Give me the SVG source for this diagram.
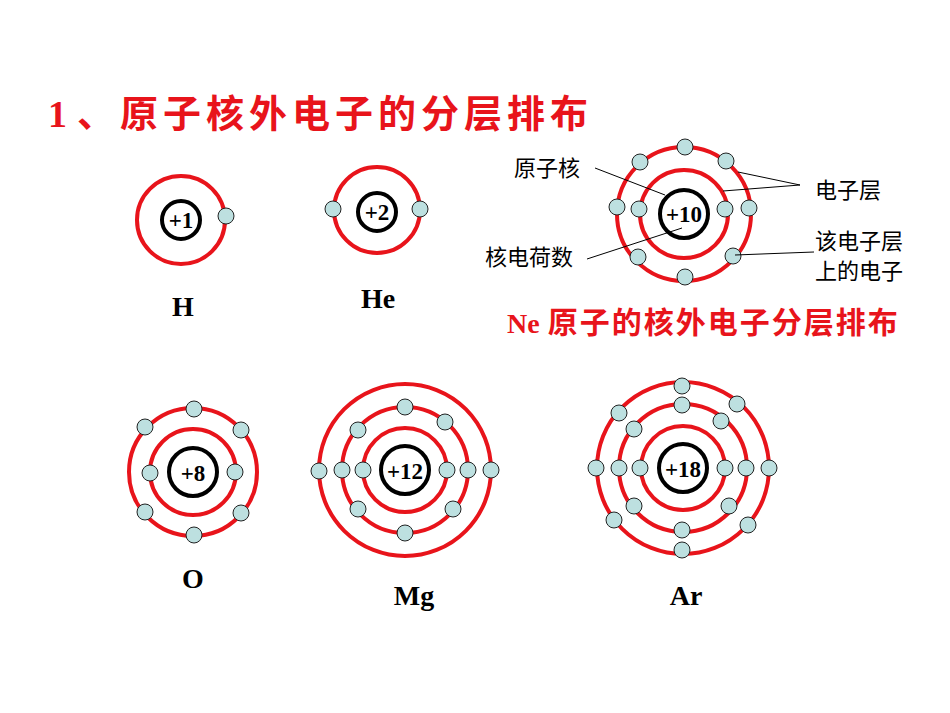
<svg xmlns="http://www.w3.org/2000/svg" width="950" height="713" viewBox="0 0 950 713">
<style>
.orb{fill:none;stroke:#e8141b;stroke-width:4}
.nuc{fill:#fff;stroke:#000;stroke-width:4}
.e{fill:#bde0e0;stroke:#222;stroke-width:1}
.n{font-family:"Liberation Serif",serif;font-weight:bold;font-size:23px;text-anchor:middle}
.sym{font-family:"Liberation Serif",serif;font-weight:bold;font-size:28px;text-anchor:middle}
.lb{font-family:"Noto Sans CJK SC",sans-serif;font-size:22px}
.ln{stroke:#000;stroke-width:1;fill:none}
</style>
<rect width="950" height="713" fill="#fff"/>
<text x="48" y="127" font-family="'Liberation Serif','Noto Sans CJK SC',serif" font-weight="bold" font-size="38" fill="#e8141b">1<tspan dx="10" font-family="'Noto Sans CJK SC',sans-serif" letter-spacing="5">、原子核外电子的分层排布</tspan></text>
<g id="H">
<circle class="orb" cx="181" cy="220" r="44"/><circle class="nuc" cx="181" cy="220" r="19"/>
<text class="n" x="181" y="228">+1</text>
<circle class="e" cx="226" cy="216" r="8"/>
<text class="sym" x="183" y="316">H</text>
</g>
<g id="He">
<circle class="orb" cx="377" cy="210" r="43"/><circle class="nuc" cx="377" cy="212" r="19"/>
<text class="n" x="377" y="220">+2</text>
<circle class="e" cx="333" cy="209" r="8"/><circle class="e" cx="420" cy="209" r="8"/>
<text class="sym" x="378" y="308">He</text>
</g>
<g id="Ne">
<circle class="orb" cx="684" cy="214" r="44"/><circle class="orb" cx="684" cy="214" r="67"/>
<circle class="nuc" cx="684" cy="214" r="24"/>
<text class="n" x="684" y="222">+10</text>
<circle class="e" cx="639" cy="209" r="8"/><circle class="e" cx="725" cy="209" r="8"/>
<circle class="e" cx="617" cy="207" r="8"/><circle class="e" cx="749" cy="208" r="8"/>
<circle class="e" cx="685" cy="147" r="8"/><circle class="e" cx="685" cy="277" r="8"/>
<circle class="e" cx="640" cy="162" r="8"/><circle class="e" cx="726" cy="161" r="8"/>
<circle class="e" cx="638" cy="257" r="8"/><circle class="e" cx="733" cy="256" r="8"/>
</g>
<g id="O">
<circle class="orb" cx="193" cy="472" r="43"/><circle class="orb" cx="193" cy="472" r="64"/>
<circle class="nuc" cx="193" cy="472" r="24"/>
<text class="n" x="193" y="481">+8</text>
<circle class="e" cx="150" cy="473" r="8"/><circle class="e" cx="235" cy="472" r="8"/>
<circle class="e" cx="194" cy="409" r="8"/><circle class="e" cx="145" cy="427" r="8"/>
<circle class="e" cx="241" cy="430" r="8"/><circle class="e" cx="145" cy="512" r="8"/>
<circle class="e" cx="241" cy="513" r="8"/><circle class="e" cx="194" cy="535" r="8"/>
<text class="sym" x="193" y="588">O</text>
</g>
<g id="Mg">
<circle class="orb" cx="405" cy="470" r="42"/><circle class="orb" cx="405" cy="470" r="63"/><circle class="orb" cx="405" cy="470" r="86"/>
<circle class="nuc" cx="405" cy="470" r="24"/>
<text class="n" x="405" y="479">+12</text>
<circle class="e" cx="363" cy="470" r="8"/><circle class="e" cx="447" cy="470" r="8"/>
<circle class="e" cx="342" cy="470" r="8"/><circle class="e" cx="468" cy="470" r="8"/>
<circle class="e" cx="405" cy="407" r="8"/><circle class="e" cx="358" cy="430" r="8"/>
<circle class="e" cx="445" cy="422" r="8"/><circle class="e" cx="358" cy="509" r="8"/>
<circle class="e" cx="453" cy="509" r="8"/><circle class="e" cx="405" cy="533" r="8"/>
<circle class="e" cx="319" cy="471" r="8"/><circle class="e" cx="491" cy="470" r="8"/>
<text class="sym" x="414" y="605">Mg</text>
</g>
<g id="Ar">
<circle class="orb" cx="683" cy="468" r="42"/><circle class="orb" cx="683" cy="468" r="64"/><circle class="orb" cx="683" cy="468" r="86"/>
<circle class="nuc" cx="683" cy="468" r="24"/>
<text class="n" x="683" y="477">+18</text>
<circle class="e" cx="640" cy="468" r="8"/><circle class="e" cx="725" cy="468" r="8"/>
<circle class="e" cx="619" cy="468" r="8"/><circle class="e" cx="746" cy="468" r="8"/>
<circle class="e" cx="682" cy="405" r="8"/><circle class="e" cx="634" cy="429" r="8"/>
<circle class="e" cx="721" cy="421" r="8"/><circle class="e" cx="634" cy="506" r="8"/>
<circle class="e" cx="729" cy="506" r="8"/><circle class="e" cx="682" cy="530" r="8"/>
<circle class="e" cx="596" cy="468" r="8"/><circle class="e" cx="769" cy="468" r="8"/>
<circle class="e" cx="682" cy="386" r="8"/><circle class="e" cx="619" cy="413" r="8"/>
<circle class="e" cx="737" cy="404" r="8"/><circle class="e" cx="614" cy="520" r="8"/>
<circle class="e" cx="748" cy="525" r="8"/><circle class="e" cx="682" cy="550" r="8"/>
<text class="sym" x="686" y="605">Ar</text>
</g>
<g id="connectors">
<path class="ln" d="M595 168L665 195"/>
<path class="ln" d="M800 185L738 172M800 185L723 191"/>
<path class="ln" d="M814 252L735 255"/>
<path class="ln" d="M587 259L682 228"/>
</g>
<g id="labels">
<text class="lb" x="514" y="176">原子核</text>
<text class="lb" x="815" y="198">电子层</text>
<text class="lb" x="815" y="249" font-size="21">该电子层</text>
<text class="lb" x="815" y="279" font-size="21">上的电子</text>
<text class="lb" x="485" y="265">核电荷数</text>
<text x="507" y="333" font-family="'Liberation Serif','Noto Sans CJK SC',serif" font-weight="bold" font-size="28" fill="#e8141b">Ne<tspan dx="8" font-family="'Noto Sans CJK SC',sans-serif" font-size="30" letter-spacing="2">原子的核外电子分层排布</tspan></text>
</g>
</svg>
